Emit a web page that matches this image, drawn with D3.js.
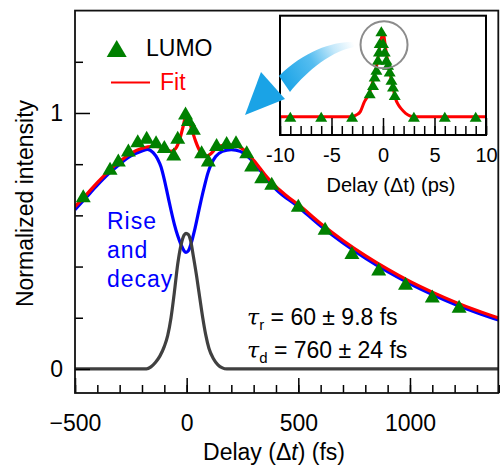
<!DOCTYPE html>
<html><head><meta charset="utf-8">
<script src="https://cdn.jsdelivr.net/npm/d3@7"></script>
<style>
body{margin:0;background:#fff;}
svg{display:block;font-family:"Liberation Sans",Arial,Helvetica,sans-serif;}
</style></head>
<body><svg id="c" width="500" height="468"></svg>
<script>
// ---------- DATA ----------
// Main panel: LUMO data points (delay fs, normalized intensity)
const lumoT = [-463,-343,-306,-261,-219,-179,-137,-100,-58,-40,-5,8,30,67,97,134,179,221,269,291,336,381,500,620,740,860,980,1100,1220];
const lumoV = [0.677,0.784,0.816,0.855,0.892,0.905,0.888,0.869,0.84,0.905,1.0,0.975,0.94,0.849,0.816,0.877,0.885,0.888,0.849,0.797,0.751,0.725,0.64,0.55,0.455,0.39,0.335,0.285,0.245];
// Fit (red)
const fitT = [-500,-450,-400,-350,-300,-250,-200,-150,-100,-70,-50,-30,-15,-3,10,25,40,60,80,100,130,170,210,250,300,350,400,450,500,600,700,800,900,1000,1100,1200,1300,1400];
const fitV = [0.634,0.68,0.728,0.772,0.81,0.842,0.862,0.87,0.862,0.85,0.86,0.9,0.95,0.99,0.97,0.93,0.89,0.85,0.83,0.835,0.86,0.875,0.875,0.86,0.815,0.76,0.712,0.675,0.642,0.568,0.502,0.443,0.39,0.342,0.3,0.262,0.228,0.198];
// Rise and decay (blue)
const riseT = [-500,-450,-400,-350,-300,-250,-200,-175,-150,-130,-115,-100,-85,-70,-55,-40,-25,-12,-3,8,20,35,50,65,80,95,110,130,160,200,240,280,320,400,500,600,700,800,900,1000,1100,1200,1300,1400];
const riseV = [0.622,0.67,0.718,0.762,0.8,0.832,0.852,0.858,0.845,0.82,0.79,0.74,0.68,0.62,0.565,0.52,0.485,0.462,0.455,0.462,0.49,0.54,0.6,0.66,0.715,0.765,0.8,0.83,0.85,0.857,0.85,0.825,0.785,0.702,0.633,0.558,0.492,0.433,0.38,0.333,0.291,0.253,0.22,0.19];
// Instrument response (gray)
const irfT = [-500,-180,-160,-140,-120,-100,-85,-70,-55,-40,-25,-12,-3,8,18,30,45,60,72,85,100,120,140,160,180,1400];
const irfV = [0,0,0.008,0.025,0.05,0.088,0.13,0.2,0.3,0.41,0.485,0.522,0.53,0.525,0.5,0.44,0.36,0.27,0.2,0.135,0.08,0.04,0.016,0.004,0,0];
// Inset: data points (delay ps, intensity)
const inT = [-9,-6,-3,-1.29,-0.97,-0.81,-0.64,-0.49,-0.39,-0.32,-0.16,0,0.17,0.33,0.49,0.65,0.82,0.97,1.14,3,6,9];
const inV = [0,0,0,0.28,0.38,0.48,0.56,0.68,0.78,0.88,1.02,0.88,0.78,0.68,0.62,0.54,0.44,0.36,0.26,0,0,0];
// Inset fit
const inFitT = [-10,-3,-2.6,-2.2,-1.8,-1.5,-1.2,-0.9,-0.6,-0.3,0,0.3,0.6,0.9,1.2,1.5,1.8,2.2,2.6,3,10];
const inFitV = [0,0,0.02,0.06,0.18,0.24,0.33,0.46,0.62,0.85,1.0,0.78,0.56,0.4,0.22,0.14,0.09,0.04,0.01,0,0];
// Ticks
const xMajor = [-500,0,500,1000];
const xMinor = d3.range(-500,1401,100);
const yMajor = [0,1];
const yMinor = [0.2,0.4,0.6,0.8,1.2];
const inMajor = [-10,-5,0,5,10];
const inMinor = d3.range(-10,11,1);

// ---------- DRAW ----------
const svg = d3.select("#c");
const FS = 23;
const x = d3.scaleLinear().domain([-500,1400]).range([75,499.3]);
const y = d3.scaleLinear().domain([-0.094,1.4]).range([393,10.6]);

const defs = svg.append("defs");
defs.append("clipPath").attr("id","clipMain")
  .append("rect").attr("x",75).attr("y",10).attr("width",424).attr("height",383);
defs.append("linearGradient").attr("id","arrowGrad")
  .attr("gradientUnits","userSpaceOnUse").attr("x1",354).attr("y1",44).attr("x2",282).attr("y2",84)
  .selectAll("stop").data([["0%","#ffffff"],["25%","#c4e8fa"],["55%","#55bdf0"],["100%","#1aa3e6"]]).join("stop")
  .attr("offset",d=>d[0]).attr("stop-color",d=>d[1]);

const tri = (w,h)=>`M0,${-h/2}L${w/2},${h/2}L${-w/2},${h/2}Z`;

const plot = svg.append("g").attr("clip-path","url(#clipMain)");
const line = (xs,ys)=>d3.line().x(d=>xs(d[0])).y(d=>ys(d[1])).curve(d3.curveMonotoneX);
const zip = (a,b)=>a.map((v,i)=>[v,b[i]]);

plot.append("path").datum(zip(riseT,riseV)).attr("d",line(x,y)).attr("fill","none").attr("stroke","#0000ff").attr("stroke-width",3.2);
plot.append("path").datum(zip(fitT,fitV)).attr("d",line(x,y)).attr("fill","none").attr("stroke","#ff0000").attr("stroke-width",3.2);
plot.append("path").datum(zip(irfT,irfV)).attr("d",line(x,y)).attr("fill","none").attr("stroke","#404040").attr("stroke-width",3.2);
plot.selectAll(".pt").data(zip(lumoT,lumoV)).join("path").attr("class","pt")
  .attr("d",tri(15,13)).attr("fill","#008000")
  .attr("transform",d=>`translate(${x(d[0])},${y(d[1])})`);

// axes
const gx = svg.append("g").attr("transform","translate(0,393)");
gx.call(d3.axisBottom(x).tickValues(xMinor).tickSize(-8).tickSizeOuter(0).tickFormat(""));
const gx2 = svg.append("g").attr("transform","translate(0,393)");
gx2.call(d3.axisBottom(x).tickValues(xMajor).tickSize(-15).tickSizeOuter(0).tickPadding(22).tickFormat(d3.format("d")));
const gy = svg.append("g").attr("transform","translate(75,0)");
gy.call(d3.axisLeft(y).tickValues(yMinor).tickSize(-8).tickSizeOuter(0).tickFormat(""));
const gy2 = svg.append("g").attr("transform","translate(75,0)");
gy2.call(d3.axisLeft(y).tickValues(yMajor).tickSize(-15).tickSizeOuter(0).tickPadding(12).tickFormat(d3.format("d")));
[gx,gx2,gy,gy2].forEach(g=>{
  g.select(".domain").remove();
  g.selectAll("line").attr("stroke","#000").attr("stroke-width",1.5);
  g.selectAll("text").attr("font-size",FS).attr("fill","#000").attr("font-family",null);
});
svg.append("rect").attr("x",75).attr("y",y(1.4)).attr("width",x(1400)-75-1).attr("height",393-y(1.4))
  .attr("fill","none").attr("stroke","#111").attr("stroke-width",1.8);

// axis titles
const xt = svg.append("text").attr("x",274).attr("y",460).attr("text-anchor","middle").attr("font-size",FS);
xt.append("tspan").text("Delay (Δ");
xt.append("tspan").attr("font-style","italic").text("t");
xt.append("tspan").text(") (fs)");
svg.append("text").attr("transform","translate(33,203.5) rotate(-90)").attr("text-anchor","middle")
  .attr("font-size",FS).text("Normalized intensity");

// legend
svg.append("path").attr("d",tri(20,17)).attr("fill","#008000").attr("transform","translate(116.7,48.5)");
svg.append("text").attr("x",146).attr("y",56).attr("font-size",FS).text("LUMO");
svg.append("line").attr("x1",111).attr("x2",150).attr("y1",82.5).attr("y2",82.5).attr("stroke","#ff0000").attr("stroke-width",2);
svg.append("text").attr("x",160).attr("y",90).attr("font-size",FS).attr("fill","#ff0000").text("Fit");

// Rise and decay label
["Rise","and","decay"].forEach((s,i)=>{
  svg.append("text").attr("x",107).attr("y",[228.5,258,287][i]).attr("font-size",FS)
    .attr("letter-spacing",1).attr("fill","#0000ff").text(s);
});

// tau annotations
function tau(yb, sub, rest){
  const t = svg.append("text").attr("x",247).attr("y",yb).attr("font-size",23).attr("fill","#000");
  t.append("tspan").attr("font-style","italic").attr("font-family","'DejaVu Serif',serif").attr("font-size",22).text("τ");
  t.append("tspan").attr("font-size",15).attr("dy",5).text(sub);
  t.append("tspan").attr("dy",-5).text(rest);
}
tau(325,"r"," = 60 ± 9.8 fs");
tau(358,"d"," = 760 ± 24 fs");

// ---------- INSET ----------
const xi = d3.scaleLinear().domain([-10,10]).range([280,486]);
const yi = d3.scaleLinear().domain([-0.219,1.207]).range([135,15.7]);
svg.append("rect").attr("x",280).attr("y",15.7).attr("width",206).attr("height",119.3).attr("fill","#fff");
svg.append("path").datum(zip(inFitT,inFitV)).attr("d",line(xi,yi)).attr("fill","none").attr("stroke","#ff0000").attr("stroke-width",3);
svg.selectAll(".ipt").data(zip(inT,inV)).join("path").attr("class","ipt")
  .attr("d",tri(12,10)).attr("fill","#008000")
  .attr("transform",d=>`translate(${xi(d[0])},${yi(d[1])})`);
svg.append("circle").attr("cx",xi(0.1)).attr("cy",yi(0.86)).attr("r",23.5)
  .attr("fill","none").attr("stroke","#8c8c8c").attr("stroke-width",2);
const gi = svg.append("g").attr("transform","translate(0,135)");
gi.call(d3.axisBottom(xi).tickValues(inMinor).tickSize(-9).tickSizeOuter(0).tickFormat(""));
const gi2 = svg.append("g").attr("transform","translate(0,135)");
gi2.call(d3.axisBottom(xi).tickValues(inMajor).tickSize(-17).tickSizeOuter(0).tickPadding(12.5)
  .tickFormat(d=>d<0?"-"+Math.abs(d):String(d)));
[gi,gi2].forEach(g=>{
  g.select(".domain").remove();
  g.selectAll("line").attr("stroke","#000").attr("stroke-width",1.5);
  g.selectAll("text").attr("font-size",20).attr("fill","#000").attr("font-family",null);
});
svg.append("rect").attr("x",280).attr("y",15.7).attr("width",206).attr("height",119.3)
  .attr("fill","none").attr("stroke","#000").attr("stroke-width",2);
svg.append("text").attr("x",391).attr("y",191.5).attr("text-anchor","middle").attr("font-size",20).text("Delay (Δt) (ps)");

// ---------- ARROW ----------
svg.append("path")
  .attr("d","M354,42 C335,41 305,50 279,76 L290,92 C302,77 327,52 354,47 Z")
  .attr("fill","url(#arrowGrad)");
svg.append("path").attr("d","M245,115 L261,72 L285,99 Z").attr("fill","#1aa3e6");
</script></body></html>
